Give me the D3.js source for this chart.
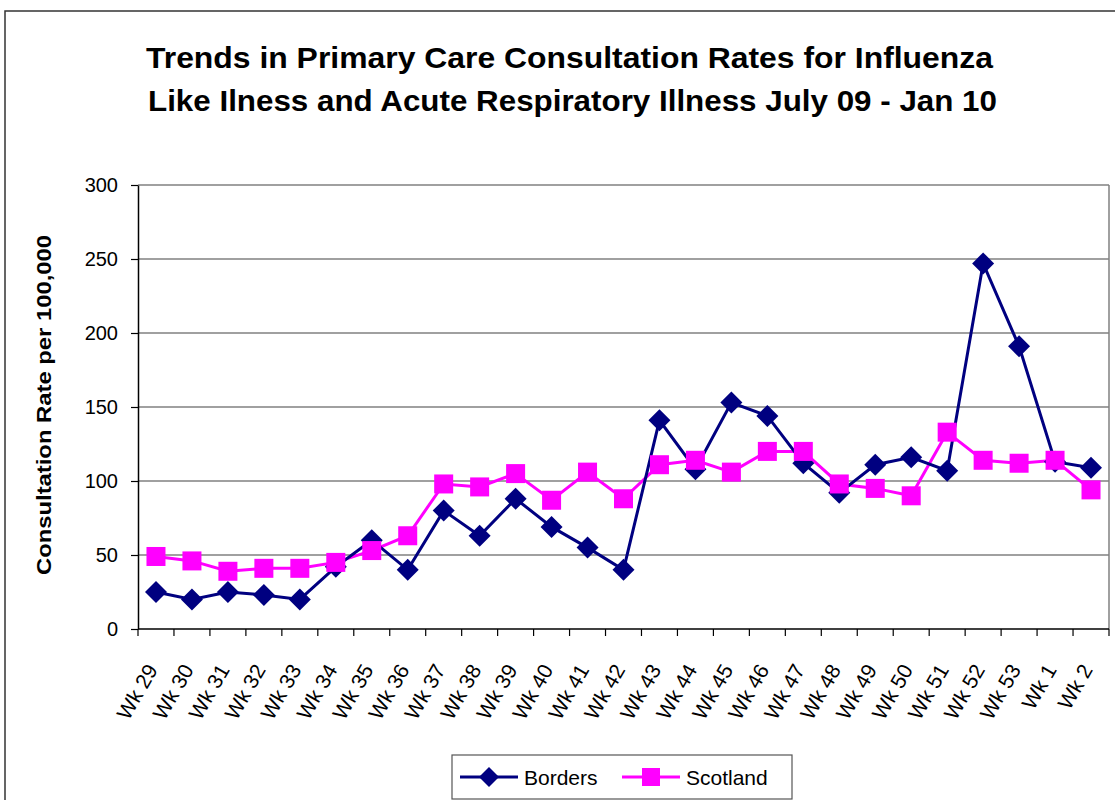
<!DOCTYPE html>
<html>
<head>
<meta charset="utf-8">
<script src="https://cdn.jsdelivr.net/npm/d3@7"></script>
<style>
  body { margin: 0; background: #fff; }
  text { font-family: "Liberation Sans", Arial, sans-serif; }
</style>
</head>
<body>
<div id="chart"></div>
<script>
const weeks = ["Wk 29","Wk 30","Wk 31","Wk 32","Wk 33","Wk 34","Wk 35","Wk 36","Wk 37","Wk 38",
               "Wk 39","Wk 40","Wk 41","Wk 42","Wk 43","Wk 44","Wk 45","Wk 46","Wk 47","Wk 48",
               "Wk 49","Wk 50","Wk 51","Wk 52","Wk 53","Wk 1","Wk 2"];
const borders = [25, 20, 25, 23, 20, 42, 60, 40, 80, 63,
                 88, 69, 55, 40, 141, 108, 153, 144, 112, 92,
                 111, 116, 107, 247, 191, 113, 109];
const scotland = [49, 46, 39, 41, 41, 45, 53, 63, 98, 96,
                  105, 87, 106, 88, 111, 114, 106, 120, 120, 98,
                  95, 90, 133, 114, 112, 114, 94];
const yTicks = [0, 50, 100, 150, 200, 250, 300];
const titleLines = ["Trends in Primary Care Consultation Rates for Influenza",
                    "Like Ilness and Acute Respiratory Illness July 09 - Jan 10"];

const W = 1115, H = 800;
const margin = {top: 185, right: 6, bottom: 171, left: 138},
      width = W - margin.left - margin.right,
      height = H - margin.top - margin.bottom;

const root = d3.select("#chart").append("svg")
  .attr("width", W).attr("height", H);

// outer chart border (cropped at right/bottom)
root.append("rect")
  .attr("x", 5).attr("y", 11).attr("width", W + 20).attr("height", H + 20)
  .attr("fill", "none").attr("stroke", "#333").attr("stroke-width", 1.5);

// title
root.append("g").selectAll("text").data(titleLines).enter().append("text")
  .attr("x", (d, i) => i === 0 ? 146 : 148)
  .attr("y", (d, i) => 68 + i * 43)
  .attr("textLength", (d, i) => i === 0 ? 847 : 849)
  .attr("lengthAdjust", "spacingAndGlyphs")
  .style("font-size", "30px").style("font-weight", "bold")
  .text(d => d);

const svg = root.append("g")
  .attr("transform", `translate(${margin.left},${margin.top})`);

const x = d3.scaleBand().domain(weeks).range([0, width]);
const y = d3.scaleLinear().domain([0, 300]).range([height, 0]);

// gridlines
svg.selectAll(".grid").data(yTicks.filter(d => d > 0)).enter().append("line")
  .attr("x1", 0).attr("x2", width)
  .attr("y1", d => y(d)).attr("y2", d => y(d))
  .attr("stroke", "#808080").attr("stroke-width", 1.5);

// right plot border
svg.append("line")
  .attr("x1", width).attr("x2", width).attr("y1", 0).attr("y2", height)
  .attr("stroke", "#808080").attr("stroke-width", 1.5);

// y axis
const yAxis = svg.append("g")
  .call(d3.axisLeft(y).tickValues(yTicks).tickSize(7).tickSizeOuter(0).tickPadding(13));
yAxis.select(".domain").attr("stroke", "#000").attr("stroke-width", 1.5);
yAxis.selectAll(".tick line").attr("stroke", "#000").attr("stroke-width", 1.2);
yAxis.selectAll(".tick text")
  .style("font-size", "20px").style("font-family", "Liberation Sans, Arial, sans-serif")
  .attr("fill", "#000");

// x axis with ticks at category boundaries
svg.append("line")
  .attr("x1", 0).attr("x2", width).attr("y1", height).attr("y2", height)
  .attr("stroke", "#000").attr("stroke-width", 1.5);
const bounds = weeks.map(d => x(d)).concat([width]);
svg.selectAll(".xtick").data(bounds).enter().append("line")
  .attr("x1", d => d).attr("x2", d => d)
  .attr("y1", height).attr("y2", height + 7)
  .attr("stroke", "#000").attr("stroke-width", 1.2);

svg.selectAll(".xlabel").data(weeks).enter().append("text")
  .attr("transform", d => `translate(${x(d) + x.bandwidth() / 2 - 4},${height + 37}) rotate(-60)`)
  .attr("text-anchor", "end")
  .attr("dy", "0.35em")
  .style("font-size", "21px")
  .text(d => d);

// y axis title
root.append("text")
  .attr("transform", "translate(51,575) rotate(-90)")
  .attr("textLength", 340)
  .attr("lengthAdjust", "spacingAndGlyphs")
  .style("font-size", "20px").style("font-weight", "bold")
  .text("Consultation Rate per 100,000");

// lines
const cx = i => x(weeks[i]) + x.bandwidth() / 2;
const line = d3.line().x((d, i) => cx(i)).y(d => y(d));

svg.append("path").datum(scotland)
  .attr("d", line).attr("fill", "none")
  .attr("stroke", "#ff00ff").attr("stroke-width", 3);
svg.append("path").datum(borders)
  .attr("d", line).attr("fill", "none")
  .attr("stroke", "#000080").attr("stroke-width", 3);

const sq = 19, dm = 11;
const diamond = r => `M0,${-r}L${r},0L0,${r}L${-r},0Z`;

svg.selectAll(".bmark").data(borders).enter().append("path")
  .attr("d", diamond(dm))
  .attr("transform", (d, i) => `translate(${cx(i)},${y(d)})`)
  .attr("fill", "#000080");

svg.selectAll(".smark").data(scotland).enter().append("rect")
  .attr("x", (d, i) => cx(i) - sq / 2).attr("y", d => y(d) - sq / 2)
  .attr("width", sq).attr("height", sq)
  .attr("fill", "#ff00ff");

// legend
const legend = root.append("g");
legend.append("rect")
  .attr("x", 452).attr("y", 755).attr("width", 340).attr("height", 44)
  .attr("fill", "#fff").attr("stroke", "#555").attr("stroke-width", 1.2);
const items = [
  {name: "Borders", color: "#000080", x0: 460, shape: "d"},
  {name: "Scotland", color: "#ff00ff", x0: 622, shape: "s"}
];
items.forEach(it => {
  legend.append("line")
    .attr("x1", it.x0).attr("x2", it.x0 + 58).attr("y1", 777).attr("y2", 777)
    .attr("stroke", it.color).attr("stroke-width", 3);
  if (it.shape === "d") {
    legend.append("path").attr("d", diamond(10))
      .attr("transform", `translate(${it.x0 + 29},777)`).attr("fill", it.color);
  } else {
    legend.append("rect").attr("x", it.x0 + 29 - 9).attr("y", 768)
      .attr("width", 18).attr("height", 18).attr("fill", it.color);
  }
  legend.append("text")
    .attr("x", it.x0 + 64).attr("y", 777).attr("dy", "0.36em")
    .style("font-size", "21px").text(it.name);
});
</script>
</body>
</html>
